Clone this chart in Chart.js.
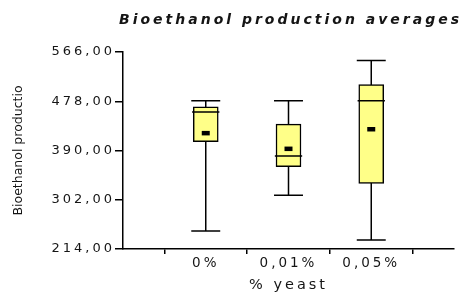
<!DOCTYPE html>
<html>
<head>
<meta charset="utf-8">
<script src="https://cdn.jsdelivr.net/npm/chart.js@4.4.0/dist/chart.umd.min.js"></script>
<style>
  html, body { margin: 0; padding: 0; background: #fff; }
  #wrap { width: 464px; height: 292px; }
</style>
</head>
<body>
<div id="wrap"><canvas id="boxChart" width="464" height="292"></canvas></div>
<script>
// ------------------------------------------------------------------ data
const categories = ['0%', '0,01%', '0,05%'];
const catPos     = [1, 2, 3];
const minVals    = [246, 310, 230];
const q1Vals     = [406, 361, 331];
const medianVals = [459, 380, 479];
const q3Vals     = [468, 437, 508];
const maxVals    = [479, 479, 551];
const meanVals   = [421, 393, 428];
const yTicks     = [214, 302, 390, 478, 566];
const xTicks     = [0, 1, 2, 3, 4];

const chartTitle = 'Bioethanol production averages';
const yTitle = 'Bioethanol productio';
const xTitle = '% yeast';

const FONT = "'DejaVu Sans', Verdana, sans-serif";
const INK = '#151515';

// ------------------------------------------------------------- helpers
// short horizontal segments centred on each category (caps, medians)
function hSegments(half, values) {
    const pts = [];
    catPos.forEach((c, i) => {
        pts.push({ x: c - half, y: values[i] }, { x: c + half, y: values[i] }, { x: c + 0.5, y: null });
    });
    return pts;
}

// vertical whisker from min to max (box covers the middle part)
function whiskers() {
    const pts = [];
    catPos.forEach((c, i) => {
        pts.push({ x: c, y: minVals[i] }, { x: c, y: maxVals[i] }, { x: c + 0.5, y: null });
    });
    return pts;
}

const lineStyle = {
    type: 'line',
    borderColor: '#000',
    borderWidth: 1.5,
    pointRadius: 0,
    spanGaps: false,
    fill: false
};

// wide letter spacing for the stretched-looking labels;
// chart title and y title are drawn here (title centred over the plot, not the canvas)
const textStyle = {
    id: 'textStyle',
    beforeUpdate(chart) { chart.ctx.letterSpacing = '3px'; },
    beforeDraw(chart) { chart.ctx.letterSpacing = '3px'; },
    afterDraw(chart) {
        const ctx = chart.ctx;
        const area = chart.chartArea;

        ctx.save();
        ctx.letterSpacing = '3px';
        ctx.font = `italic bold 14px ${FONT}`;
        ctx.fillStyle = INK;
        ctx.textAlign = 'center';
        ctx.textBaseline = 'middle';
        ctx.fillText(chartTitle, (area.left + area.right) / 2 + 2, 20);
        ctx.restore();

        ctx.save();
        ctx.letterSpacing = '0px';
        ctx.translate(22, (area.top + area.bottom) / 2);
        ctx.rotate(-Math.PI / 2);
        ctx.font = `12.5px ${FONT}`;
        ctx.fillStyle = INK;
        ctx.textAlign = 'center';
        ctx.textBaseline = 'alphabetic';
        ctx.fillText(yTitle, 0, 0);
        ctx.restore();
    }
};

// ---------------------------------------------------------------- chart
new Chart(document.getElementById('boxChart'), {
    type: 'line',
    data: {
        datasets: [
            { ...lineStyle, data: whiskers(), order: 3 },
            { ...lineStyle, data: hSegments(0.175, minVals), order: 3 },
            { ...lineStyle, data: hSegments(0.175, maxVals), order: 3 },
            {
                type: 'bar',
                data: catPos.map((c, i) => ({ x: c, y: [q1Vals[i], q3Vals[i]] })),
                backgroundColor: '#ffff88',
                borderColor: '#000',
                borderWidth: 1.5,
                borderSkipped: false,
                barThickness: 25,
                order: 2
            },
            { ...lineStyle, data: hSegments(0.165, medianVals), order: 1 },
            {
                type: 'line',
                data: catPos.map((c, i) => ({ x: c, y: meanVals[i] })),
                showLine: false,
                pointStyle: 'line',
                pointRadius: 4,
                pointBorderWidth: 4.5,
                pointBorderColor: '#000',
                pointBackgroundColor: '#000',
                order: 0
            }
        ]
    },
    options: {
        responsive: false,
        animation: false,
        events: [],
        layout: { padding: { left: 0, right: 10, top: 52, bottom: 0 } },
        plugins: {
            legend: { display: false },
            tooltip: { enabled: false },
            title: { display: false }
        },
        scales: {
            x: {
                type: 'linear',
                min: 0,
                max: 4,
                offset: false,
                afterBuildTicks: s => { s.ticks = xTicks.map(v => ({ value: v })); },
                afterFit: s => { s.height = 43; },
                grid: { drawOnChartArea: false, tickLength: 5, color: '#000', lineWidth: 1.5 },
                border: { color: '#000', width: 1.5 },
                ticks: {
                    padding: 1,
                    color: INK,
                    maxRotation: 0,
                    autoSkip: false,
                    font: { family: FONT, size: 13.5 },
                    callback: v => categories[catPos.indexOf(v)] ?? ''
                },
                title: {
                    display: true,
                    text: xTitle,
                    color: INK,
                    font: { family: FONT, size: 14.5, lineHeight: 1 },
                    padding: { top: 0, bottom: 0 }
                }
            },
            y: {
                min: 214,
                max: 566,
                afterBuildTicks: s => { s.ticks = yTicks.map(v => ({ value: v })); },
                afterFit: s => { s.width = 123; },
                grid: { drawOnChartArea: false, tickLength: 8, color: '#000', lineWidth: 1.5 },
                border: { color: '#000', width: 1.5 },
                ticks: {
                    padding: 0,
                    color: INK,
                    font: { family: FONT, size: 13 },
                    callback: v => v.toFixed(2).replace('.', ',')
                }
            }
        }
    },
    plugins: [textStyle]
});
</script>
</body>
</html>
